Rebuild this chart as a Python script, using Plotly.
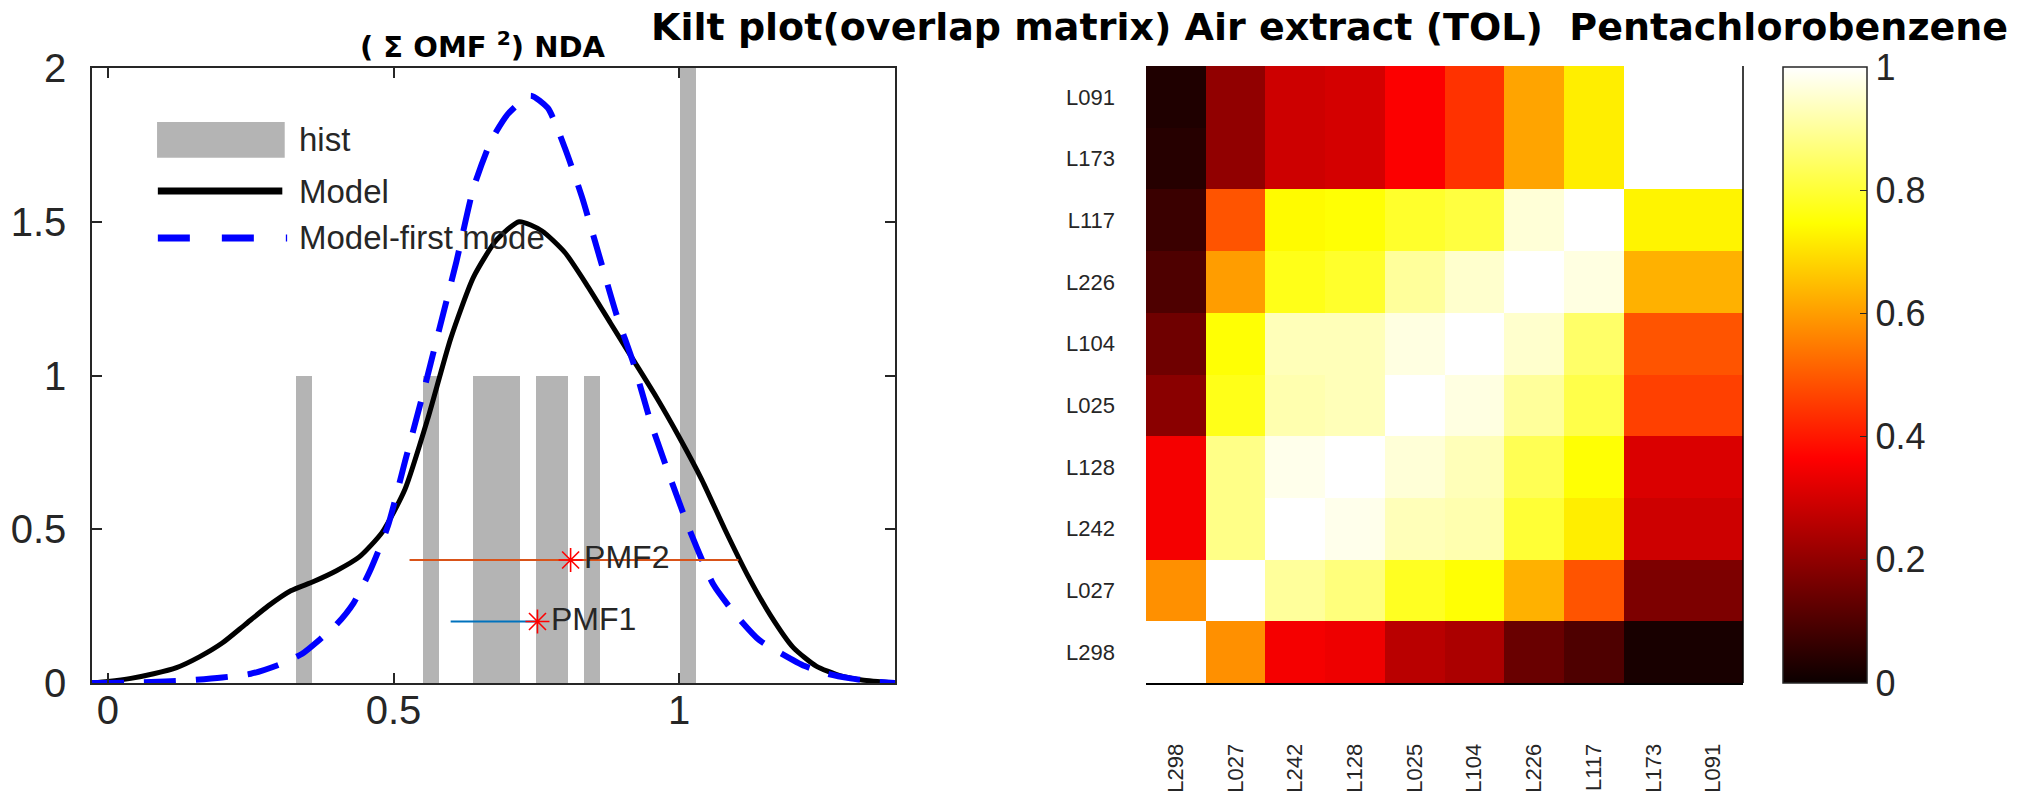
import plotly.graph_objects as go

# ---------------- left panel data ----------------
hist_x = [0.343, 0.566, 0.653, 0.681, 0.708, 0.764, 0.791, 0.847, 1.015]
hist_counts = [1, 1, 1, 1, 1, 1, 1, 1, 2]
hist_bin_width = 0.028

model_x = [-0.028, 0.0, 0.04, 0.08, 0.12, 0.16, 0.20, 0.24, 0.28, 0.32, 0.36, 0.40, 0.44,
           0.48, 0.52, 0.56, 0.60, 0.64, 0.68, 0.72, 0.76, 0.80, 0.84, 0.88, 0.92, 0.96,
           1.00, 1.04, 1.08, 1.12, 1.16, 1.20, 1.24, 1.28, 1.32, 1.378]
model_y = [0.0, 0.005, 0.015, 0.03, 0.05, 0.085, 0.13, 0.19, 0.25, 0.30, 0.33, 0.365, 0.41,
           0.49, 0.63, 0.86, 1.12, 1.32, 1.44, 1.50, 1.47, 1.40, 1.29, 1.17, 1.05, 0.93,
           0.80, 0.66, 0.50, 0.35, 0.22, 0.115, 0.055, 0.025, 0.01, 0.0]

first_x = [-0.028, 0.0, 0.05, 0.10, 0.15, 0.20, 0.25, 0.30, 0.34, 0.37, 0.40, 0.43, 0.46,
           0.49, 0.52, 0.55, 0.58, 0.61, 0.64, 0.67, 0.70, 0.74, 0.77, 0.80, 0.83, 0.86,
           0.89, 0.92, 0.95, 0.98, 1.02, 1.06, 1.10, 1.14, 1.18, 1.22, 1.26, 1.30, 1.34, 1.378]
first_y = [0.0, 0.0, 0.002, 0.005, 0.01, 0.018, 0.03, 0.06, 0.095, 0.14, 0.19, 0.26, 0.37,
           0.51, 0.72, 0.93, 1.15, 1.37, 1.61, 1.76, 1.85, 1.91, 1.87, 1.74, 1.58, 1.39,
           1.20, 1.04, 0.85, 0.69, 0.49, 0.32, 0.22, 0.14, 0.095, 0.055, 0.03, 0.015, 0.005, 0.0]

pmf_names = ["PMF1", "PMF2"]
pmf_center = [0.752, 0.81]
pmf_low = [0.60, 0.528]
pmf_high = [0.752, 1.104]
pmf_level = [0.2, 0.4]
pmf_colors = ["#0072BD", "#D95319"]

# ---------------- kilt plot data ----------------
kilt_cols = ["L298", "L027", "L242", "L128", "L025", "L104", "L226", "L117", "L173", "L091"]
kilt_rows = ["L091", "L173", "L117", "L226", "L104", "L025", "L128", "L242", "L027", "L298"]
overlap = [
    [0.03, 0.20, 0.29, 0.30, 0.36, 0.44, 0.61, 0.72, 1.00, 1.00],
    [0.04, 0.20, 0.29, 0.30, 0.36, 0.44, 0.61, 0.72, 1.00, 1.00],
    [0.07, 0.49, 0.74, 0.75, 0.79, 0.81, 0.96, 1.00, 0.73, 0.73],
    [0.10, 0.60, 0.77, 0.79, 0.90, 0.95, 1.00, 0.97, 0.63, 0.63],
    [0.15, 0.75, 0.93, 0.93, 0.97, 1.00, 0.95, 0.85, 0.49, 0.49],
    [0.19, 0.77, 0.92, 0.93, 1.00, 0.97, 0.90, 0.82, 0.46, 0.46],
    [0.35, 0.88, 0.98, 1.00, 0.96, 0.93, 0.83, 0.75, 0.31, 0.31],
    [0.35, 0.88, 1.00, 0.98, 0.93, 0.92, 0.80, 0.72, 0.29, 0.29],
    [0.58, 1.00, 0.90, 0.87, 0.78, 0.75, 0.63, 0.49, 0.17, 0.17],
    [1.00, 0.58, 0.35, 0.34, 0.26, 0.24, 0.14, 0.10, 0.02, 0.02],
]
cbar_ticks = [0, 0.2, 0.4, 0.6, 0.8, 1]

hot = [[0.0, "rgb(11,0,0)"], [0.365, "rgb(255,0,0)"],
       [0.746, "rgb(255,255,0)"], [1.0, "rgb(255,255,255)"]]

TXT = "#262626"
FONT = "Liberation Sans, Arial, sans-serif"
BAR_GREY = "rgb(180,180,180)"

fig = go.Figure()

fig.add_trace(go.Bar(x=hist_x, y=hist_counts, width=hist_bin_width,
                     marker=dict(color=BAR_GREY, line=dict(width=0)),
                     name="hist", xaxis="x", yaxis="y", showlegend=False))
fig.add_trace(go.Scatter(x=model_x, y=model_y, mode="lines", name="Model",
                         line=dict(color="black", width=5, shape="spline", smoothing=0.6),
                         cliponaxis=False, showlegend=False))
fig.add_trace(go.Scatter(x=first_x, y=first_y, mode="lines", name="Model-first mode",
                         line=dict(color="rgb(0,0,255)", width=6, dash="32px,20px",
                                   shape="spline", smoothing=0.6),
                         cliponaxis=False, showlegend=False))
for name, lo, hi, lev, col in zip(pmf_names, pmf_low, pmf_high, pmf_level, pmf_colors):
    fig.add_trace(go.Scatter(x=[lo, hi], y=[lev, lev], mode="lines",
                             line=dict(color=col, width=2), showlegend=False))
fig.add_trace(go.Scatter(x=pmf_center, y=pmf_level, mode="markers+text", text=pmf_names,
                         textposition="middle right",
                         textfont=dict(family=FONT, size=32, color=TXT),
                         marker=dict(symbol="asterisk-open", size=20, color="red",
                                     line=dict(color="red", width=1.6)),
                         showlegend=False))

fig.add_trace(go.Heatmap(z=overlap, x=kilt_cols, y=kilt_rows, xaxis="x2", yaxis="y2",
                         colorscale=hot, zmin=0, zmax=1, showscale=True,
                         colorbar=dict(x=1783 / 2017, xanchor="left", thickness=84,
                                       lenmode="pixels", len=616, y=1 - 375 / 796,
                                       yanchor="middle", ypad=0, xpad=0,
                                       outlinewidth=1.5, outlinecolor=TXT,
                                       tickvals=cbar_ticks,
                                       ticktext=[("%g" % t) for t in cbar_ticks],
                                       ticks="inside", ticklen=7, tickcolor=TXT,
                                       tickfont=dict(family=FONT, size=36, color=TXT))))

axis_common = dict(showgrid=False, zeroline=False, showline=True, linecolor=TXT, linewidth=1.5,
                   mirror="ticks", ticks="inside", ticklen=10, tickwidth=1.5, tickcolor=TXT,
                   automargin=False,
                   tickfont=dict(family=FONT, size=40, color=TXT))

fig.update_layout(
    width=2017, height=796, autosize=False,
    margin=dict(l=0, r=0, t=0, b=0, autoexpand=False),
    paper_bgcolor="white", plot_bgcolor="white",
    showlegend=False,
    xaxis=dict(domain=[92 / 2017, 895 / 2017], range=[-0.028, 1.378],
               tickvals=[0, 0.5, 1], ticktext=["0", "0.5", "1"], ticklabelstandoff=-9,
               **axis_common),
    yaxis=dict(domain=[1 - 683 / 796, 1 - 68 / 796], range=[0, 2],
               tickvals=[0, 0.5, 1, 1.5, 2], ticktext=["0", "0.5", "1", "1.5", "2"],
               ticklabelstandoff=16, **axis_common),
    xaxis2=dict(domain=[1146 / 2017, 1743 / 2017], anchor="y2", type="category",
                showgrid=False, zeroline=False, showline=True, linecolor="black", linewidth=2,
                ticks="", tickangle=-90, ticklabelstandoff=50, automargin=False,
                tickfont=dict(family=FONT, size=22, color=TXT)),
    yaxis2=dict(domain=[1 - 683 / 796, 1 - 66 / 796], anchor="x2", type="category",
                autorange="reversed", showgrid=False, zeroline=False, showline=False,
                ticks="", ticklabelstandoff=30, automargin=False,
                tickfont=dict(family=FONT, size=22, color=TXT)),
    bargap=0,
)

# legend drawn inside the left axes (MATLAB style, long sample glyphs)
fig.add_shape(type="rect", xref="x domain", yref="y domain", x0=0.081, x1=0.240,
              y0=0.854, y1=0.912, fillcolor=BAR_GREY, line=dict(width=0))
fig.add_shape(type="line", xref="x domain", yref="y domain", x0=0.082, x1=0.237,
              y0=0.800, y1=0.800, line=dict(color="black", width=7))
fig.add_shape(type="line", xref="x domain", yref="y domain", x0=0.082, x1=0.243,
              y0=0.7236, y1=0.7236, line=dict(color="rgb(0,0,255)", width=7, dash="32px,32px"))
# right-hand box edge of the kilt axes
fig.add_shape(type="line", xref="x2 domain", yref="y2 domain", x0=1, x1=1, y0=0, y1=1,
              line=dict(color="black", width=1.5))

for label, yy in zip(["hist", "Model", "Model-first mode"], [0.883, 0.800, 0.7236]):
    fig.add_annotation(text=label, xref="x domain", yref="y domain", x=0.2553, y=yy,
                       xanchor="left", yanchor="middle", showarrow=False,
                       font=dict(family=FONT, size=33, color=TXT))

fig.add_annotation(text="(\u00a0\u03a3\u00a0OMF\u00a0<sup>2</sup>)\u00a0NDA", xref="paper", yref="paper",
                   x=483 / 2017, y=1 - 45 / 796, xanchor="center", yanchor="middle",
                   showarrow=False,
                   font=dict(family="DejaVu Sans, sans-serif", size=29, color="black", weight="bold"))
fig.add_annotation(text="Kilt plot(overlap matrix) Air extract (TOL)\u00a0\u00a0Pentachlorobenzene",
                   xref="paper", yref="paper", x=1329 / 2017, y=1 - 27 / 796,
                   xanchor="center", yanchor="middle", showarrow=False, borderpad=0,
                   font=dict(family="DejaVu Sans, sans-serif", size=38, color="black", weight="bold"))

fig.write_html("out.html", config={"displayModeBar": False},
               post_script="document.body.style.margin='0';")
